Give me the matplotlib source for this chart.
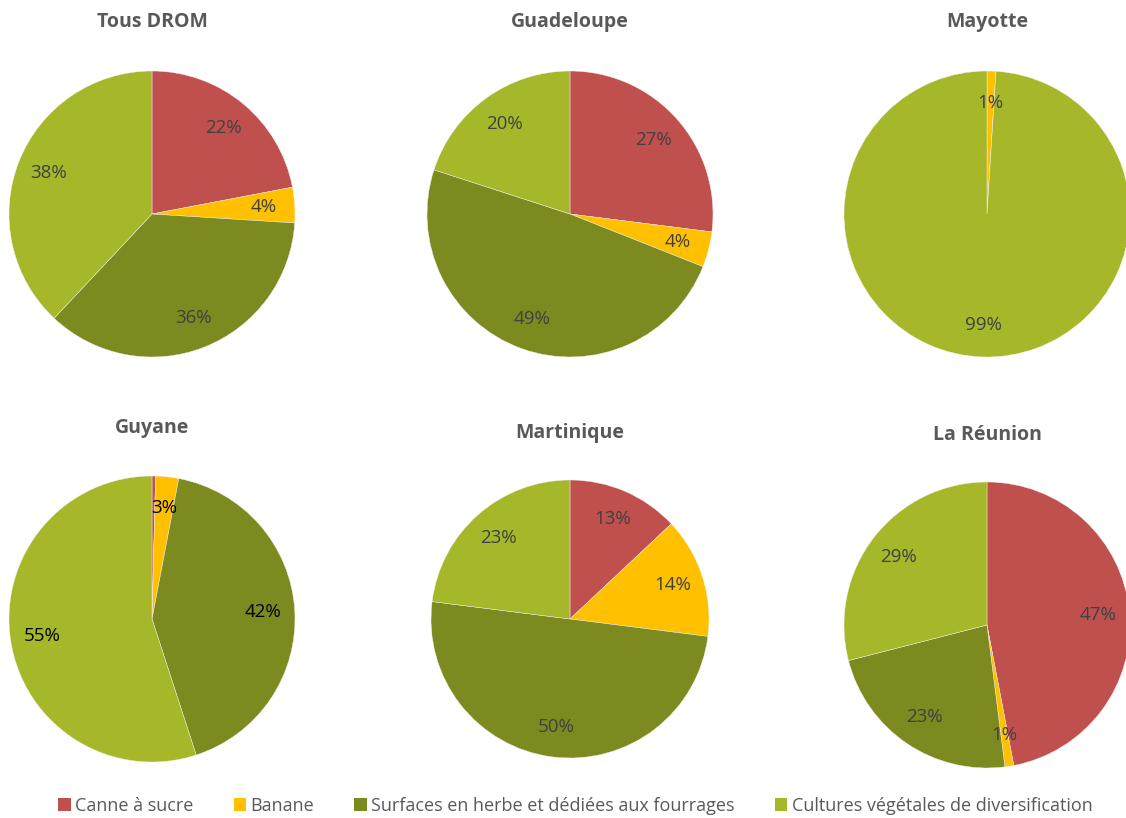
import numpy as np
import matplotlib.pyplot as plt
from matplotlib.patches import Patch

plt.rcParams['font.family'] = ['Open Sans', 'DejaVu Sans']

# categories and series
categories = ["Canne à sucre", "Banane",
              "Surfaces en herbe et dédiées aux fourrages",
              "Cultures végétales de diversification"]
colors = ["#C0504D", "#FFC000", "#7D8A1F", "#A7B72A"]

regions = ["Tous DROM", "Guadeloupe", "Mayotte",
           "Guyane", "Martinique", "La Réunion"]
tous_drom = [22, 4, 36, 38]
guadeloupe = [27, 4, 49, 20]
mayotte = [0, 1, 0, 99]
guyane = [0.4, 2.6, 42, 55]
martinique = [13, 14, 50, 23]
reunion = [47, 1, 23, 29]
values = [tous_drom, guadeloupe, mayotte, guyane, martinique, reunion]

W, H = 1126, 818
fig = plt.figure(figsize=(W / 100, H / 100), dpi=100)

# pie centres / radius in pixels, title y in pixels
centres = [(152, 214), (570, 214), (987, 214),
           (152, 619), (570, 619), (987, 625)]
radii = [143, 143, 143, 143, 139, 143]
title_y = [22, 22, 22, 428, 433, 435]
label_colors = ["#404040", "#404040", "#404040", "black", "#404040", "#404040"]


def fmt(p):
    # hide labels of very small slices
    return f"{p:.0f}%" if p >= 0.5 else ""


for i, name in enumerate(regions):
    cx, cy = centres[i]
    r = radii[i]
    ax = fig.add_axes([(cx - r) / W, 1 - (cy + r) / H, 2 * r / W, 2 * r / H])
    wedges, texts, autotexts = ax.pie(
        values[i], colors=colors, startangle=90, counterclock=False,
        autopct=fmt, pctdistance=0.78,
        wedgeprops=dict(edgecolor="#f4f4ee", linewidth=0.3),
        textprops=dict(fontsize=13.5, color=label_colors[i]))
    ax.set_xlim(-1, 1)
    ax.set_ylim(-1, 1)
    ax.set_aspect("equal")
    fig.text(cx / W, 1 - title_y[i] / H, name, ha="center", va="center",
             fontsize=14, fontweight="bold", color="#595959")

handles = [Patch(facecolor=c, label=l) for c, l in zip(colors, categories)]
fig.legend(handles=handles, loc="center", bbox_to_anchor=(0.511, 1 - 806 / H),
           ncol=4, frameon=False, fontsize=13, handlelength=0.7,
           handleheight=0.7, handletextpad=0.25, columnspacing=2.2,
           labelcolor="#595959")

fig.savefig("out.png", dpi=100)
